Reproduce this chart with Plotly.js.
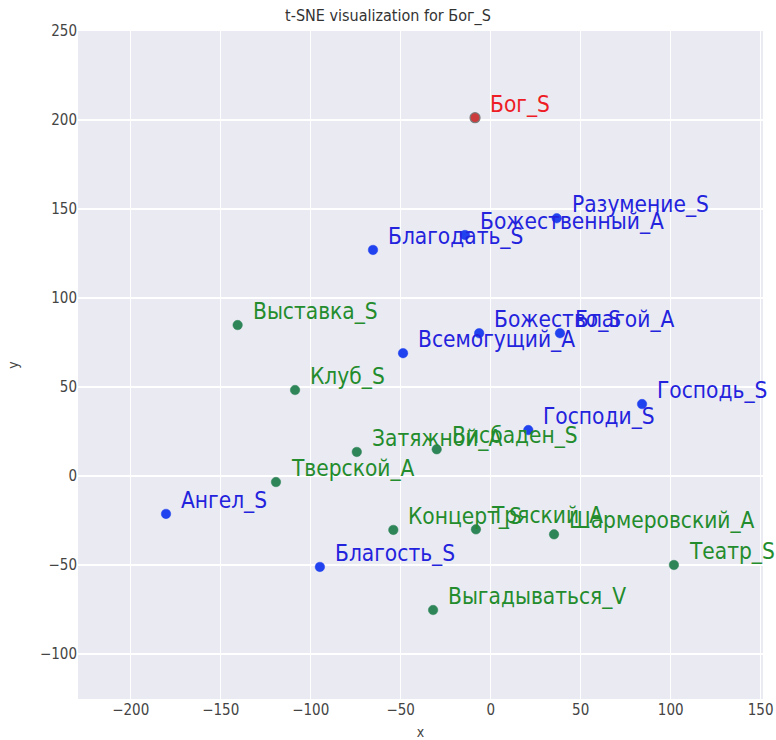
<!DOCTYPE html>
<html>
<head>
<meta charset="utf-8">
<script src="https://cdn.plot.ly/plotly-3.0.1.min.js"></script>
<style>html,body{margin:0;padding:0;background:#fff;}#chart{width:776px;height:740px;}</style>
</head>
<body>
<div id="chart"></div>
<script>
// Words, coordinates and group (0 = target, 1 = similar, 2 = other)
const words = ["Бог_S","Разумение_S","Божественный_А","Благодать_S","Выставка_S","Божество_S","Благой_А","Всемогущий_А","Клуб_S","Господь_S","Господи_S","Затяжной_А","Висбаден_S","Тверской_А","Ангел_S","Концерт_S","Тряский_А","Шармеровский_А","Театр_S","Благость_S","Выгадываться_V"];
const xs = [-8.7, 36.7, -14.3, -65.4, -140.6, -6.4, 38.5, -48.7, -108.7, 84.1, 20.9, -74.4, -30.0, -119.3, -180.4, -54.1, -8.2, 35.2, 101.8, -94.9, -32.0];
const ys = [201.3, 144.8, 135.4, 127.0, 84.8, 80.2, 80.2, 69.0, 48.3, 40.4, 25.8, 13.5, 15.0, -3.4, -21.3, -30.3, -30.0, -32.8, -50.0, -51.1, -75.3];
const groups = [0, 1, 1, 1, 2, 1, 1, 1, 2, 1, 1, 2, 2, 2, 1, 2, 2, 2, 2, 1, 2];

const pointColors = ["#cc3b3b", "#2142ef", "#2e8558"];
const edgeColors = ["#7a7a7a", "#2142ef", "#2e8558"];
const textColors = ["#ee1c24", "#2323dd", "#238c2c"];

const FONT = "'DejaVu Sans Condensed', 'DejaVu Sans', sans-serif";

const traces = [0, 1, 2].map(g => {
  const idx = groups.map((v, i) => v === g ? i : -1).filter(i => i >= 0);
  return {
    type: "scatter",
    mode: "markers",
    x: idx.map(i => xs[i]),
    y: idx.map(i => ys[i]),
    text: idx.map(i => words[i]),
    hoverinfo: "text",
    marker: {
      size: g === 0 ? 10 : 9.5,
      color: pointColors[g],
      line: {width: g === 0 ? 1.2 : 0.5, color: edgeColors[g]}
    },
    showlegend: false
  };
});

const annotations = words.map((w, i) => ({
  x: xs[i], y: ys[i], xref: "x", yref: "y",
  text: w, showarrow: false,
  xanchor: "left", yanchor: "bottom",
  xshift: 13, yshift: -1,
  font: {family: FONT, size: 22.5, color: textColors[groups[i]]}
}));

const layout = {
  width: 776, height: 740,
  margin: {l: 78, r: 13, t: 31, b: 41},
  paper_bgcolor: "#ffffff",
  plot_bgcolor: "#eaeaf2",
  font: {family: FONT, color: "#3a3a3a"},
  title: {text: "t-SNE visualization for Бог_S", font: {family: FONT, size: 16, color: "#333333"}, x: 0.5, xanchor: "center", y: 0.979, yanchor: "middle"},
  xaxis: {
    range: [-229.3, 151.3], tickvals: [-200, -150, -100, -50, 0, 50, 100, 150],
    ticktext: ["−200", "−150", "−100", "−50", "0", "50", "100", "150"],
    showgrid: true, gridcolor: "#ffffff", gridwidth: 1.2, zeroline: false, showline: false,
    ticks: "", tickfont: {family: FONT, size: 15, color: "#444444"},
    title: {text: "x", font: {family: FONT, size: 14, color: "#444444"}, standoff: 10}
  },
  yaxis: {
    range: [-125.3, 250], tickvals: [-100, -50, 0, 50, 100, 150, 200, 250],
    ticktext: ["−100", "−50", "0", "50", "100", "150", "200", "250"],
    showgrid: true, gridcolor: "#ffffff", gridwidth: 1.2, zeroline: false, showline: false,
    ticks: "", tickfont: {family: FONT, size: 15, color: "#444444"},
    title: {text: "y", font: {family: FONT, size: 14, color: "#444444"}, standoff: 18}
  },
  annotations: annotations
};

Plotly.newPlot("chart", traces, layout, {displayModeBar: false, staticPlot: true});
</script>
</body>
</html>
